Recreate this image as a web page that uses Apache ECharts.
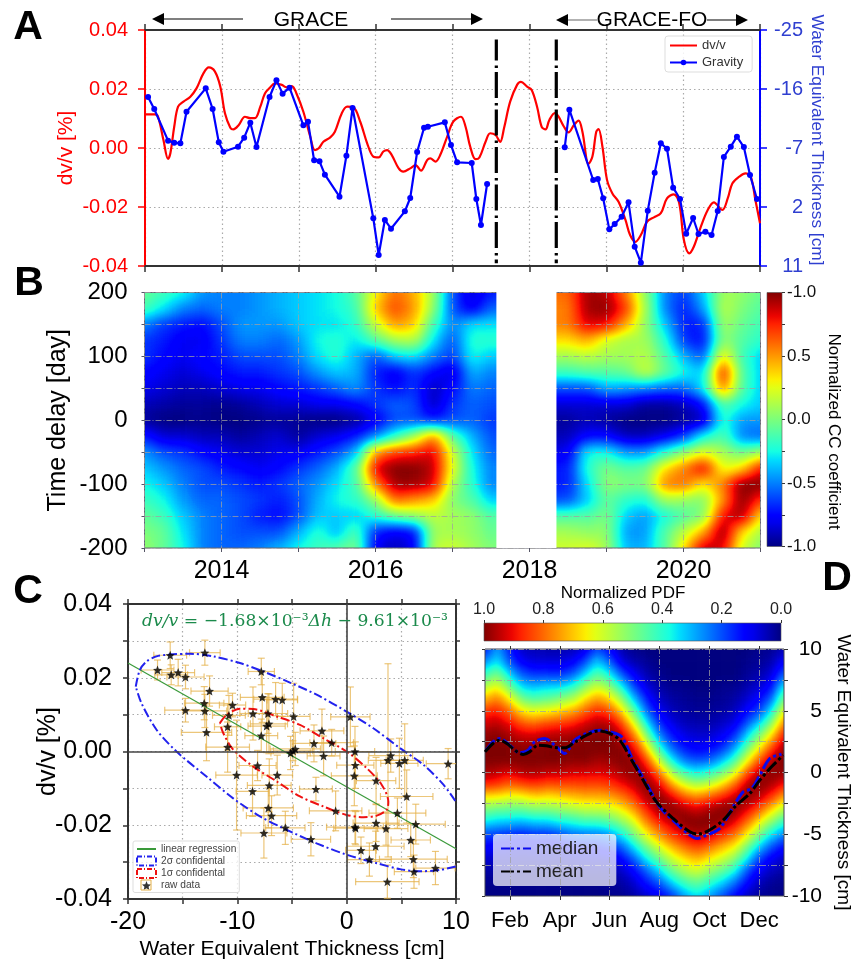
<!DOCTYPE html>
<html><head><meta charset="utf-8">
<style>html,body{margin:0;padding:0;background:#fff;width:858px;height:962px;overflow:hidden}
.clip{position:absolute;overflow:hidden}.inner{position:absolute}
#main{position:absolute;left:0;top:0;width:858px;height:962px;z-index:3}</style>
<script src="https://cdn.jsdelivr.net/npm/echarts@6/dist/echarts.min.js"></script>
</head><body>
<div id="filters"></div>
<div id="main"></div>
<script>
// ---------- Panel A ----------
const dvvYear=[2013.00,2013.13,2013.17,2013.24,2013.30,2013.33,2013.38,2013.43,2013.50,2013.59,2013.67,2013.76,2013.83,2013.91,2013.98,2014.04,2014.11,2014.15,2014.22,2014.30,2014.37,2014.43,2014.50,2014.56,2014.63,2014.69,2014.78,2014.84,2014.91,2014.97,2015.06,2015.15,2015.21,2015.26,2015.32,2015.41,2015.47,2015.56,2015.63,2015.71,2015.80,2015.89,2015.97,2016.04,2016.10,2016.15,2016.21,2016.30,2016.36,2016.45,2016.52,2016.59,2016.67,2016.71,2016.78,2016.84,2016.93,2017.01,2017.11,2017.17,2017.23,2017.30,2017.35,2017.43,2017.49,2017.56,2017.62,2017.67,2017.75,2017.84,2017.89,2017.97,2018.03,2018.10,2018.16,2018.21,2018.26,2018.33,2018.38,2018.45,2018.51,2018.58,2018.64,2018.69,2018.77,2018.82,2018.87,2018.90,2018.95,2019.01,2019.08,2019.16,2019.25,2019.31,2019.38,2019.45,2019.53,2019.62,2019.71,2019.79,2019.88,2019.95,2020.01,2020.08,2020.14,2020.23,2020.32,2020.40,2020.51,2020.58,2020.64,2020.73,2020.81,2020.88,2020.94,2021.00];
const dvvValue=[.0114,.0114,.0106,.0027,-.0037,-.0018,.0072,.0140,.0157,.0174,.0202,.0253,.0273,.0259,.0208,.0118,.0069,.0063,.0078,.0106,.0101,.0101,.0140,.0185,.0206,.0219,.0214,.0206,.0210,.0185,.0123,.0038,-.0007,-.0001,.0021,.0036,.0055,.0118,.0140,.0138,.0089,.0016,-.0029,-.0032,-.0012,-.0007,-.0024,-.0069,-.0080,-.0069,-.0058,-.0077,-.0041,-.0035,-.0046,-.0024,.0038,.0089,.0106,.0072,.0005,-.0038,-.0032,.0021,.0050,.0044,.0021,.0067,.0157,.0214,.0224,.0208,.0197,.0140,.0072,.0063,.0095,.0118,.0106,.0072,.0053,.0078,.0093,.0055,-.0054,-.0029,.0055,.0064,.0005,-.0108,-.0154,-.0182,-.0244,-.0295,-.0318,-.0295,-.0250,-.0235,-.0221,-.0171,-.0157,-.0188,-.0312,-.0357,-.0334,-.0267,-.0210,-.0184,-.0210,-.0171,-.0120,-.0097,-.0086,-.0097,-.0176,-.0255];
const gravityYear=[2013.04,2013.12,2013.30,2013.38,2013.46,2013.54,2013.79,2013.88,2013.96,2014.02,2014.21,2014.29,2014.37,2014.45,2014.62,2014.71,2014.79,2014.88,2015.06,2015.12,2015.20,2015.27,2015.34,2015.53,2015.62,2015.70,2015.97,2016.04,2016.12,2016.20,2016.38,2016.45,2016.54,2016.63,2016.68,2016.90,2016.98,2017.06,2017.25,2017.31,2017.37,2017.45,2018.00,2018.46,2018.52,2018.83,2018.89,2018.96,2019.04,2019.11,2019.20,2019.29,2019.37,2019.45,2019.54,2019.63,2019.71,2019.79,2019.87,2019.96,2020.04,2020.13,2020.20,2020.29,2020.37,2020.45,2020.53,2020.62,2020.70,2020.79,2020.87,2020.96];
const gravityThickness=[-14.78,-12.95,-8.12,-7.81,-7.71,-12.54,-16.10,-12.95,-7.86,-6.44,-7.20,-8.58,-10.86,-7.15,-14.78,-17.32,-15.29,-16.20,-10.46,-11.02,-5.12,-4.97,-2.93,0.43,-5.83,-13.10,3.73,9.32,3.98,5.31,2.66,0.63,-6.39,-10.10,-10.25,-10.91,-7.46,-4.81,-4.71,0.78,4.75,-1.51,null,-7.10,-12.85,-2.12,-2.27,0.68,5.41,4.59,3.48,1.29,8.05,10.49,2.56,-3.24,-7.71,-6.90,-0.95,0.78,6.07,3.68,6.12,5.76,6.27,2.61,-5.63,-7.20,-8.73,-7.15,-2.88,0.78];
const missionBreakYears=[2017.57,2018.35];
const breakLineValues=[0.0368,-0.0391];
const thicknessTicks=[-25,-16,-7,2,11];
// ---------- Panel B (rows: lag 200 ... -200 every 25 days; columns: 2013.00 ... 2021.00 every quarter year) ----------
const lagDays=[200,175,150,125,100,75,50,25,0,-25,-50,-75,-100,-125,-150,-175,-200];
const ccRow200=[-.05,-.15,-.25,-.45,-.5,-.5,-.45,-.4,-.35,-.3,-.25,-.1,.3,.6,.45,.1,-.6,-.85,-.7,null,null,null,.6,.95,.9,.55,.05,-.5,-.65,-.35,.1,.05,-.05];
const ccRow175=[-.12,-.3,-.5,-.55,-.5,-.5,-.45,-.4,-.35,-.3,-.25,-.15,.4,.68,.5,.05,-.6,-.8,-.55,null,null,null,.55,.95,.98,.7,.1,-.5,-.7,-.45,.15,0,-.1];
const ccRow150=[-.5,-.65,-.7,-.75,-.6,-.45,-.45,-.45,-.35,-.3,-.3,-.2,.2,.5,.4,-.15,-.5,-.3,-.3,null,null,null,.55,.85,.8,.45,.05,-.35,-.7,-.7,.1,-.05,-.15];
const ccRow125=[-.65,-.7,-.8,-.8,-.65,-.5,-.5,-.55,-.45,-.25,-.2,-.3,-.1,.1,.15,-.3,-.6,-.2,-.2,null,null,null,.35,.45,.2,.1,.1,-.2,-.65,-.75,.05,-.1,-.2];
const ccRow100=[-.65,-.75,-.8,-.75,-.7,-.6,-.6,-.6,-.5,-.3,-.2,-.4,-.6,-.35,-.3,-.5,-.65,-.25,-.35,null,null,null,.1,.15,.1,.1,.15,-.1,-.4,-.6,.35,-.15,-.35];
const ccRow75=[-.75,-.8,-.85,-.8,-.75,-.7,-.7,-.65,-.6,-.45,-.35,-.4,-.7,-.8,-.65,-.75,-.85,-.4,-.5,null,null,null,-.15,-.1,-.1,-.05,.2,-.05,-.25,-.35,.8,-.1,-.35];
const ccRow50=[-.8,-.85,-.9,-.9,-.85,-.8,-.8,-.75,-.7,-.65,-.55,-.45,-.65,-.75,-.65,-.9,-.75,-.5,-.55,null,null,null,-.6,-.6,-.4,-.45,-.5,-.55,-.55,-.3,.6,-.1,-.35];
const ccRow25=[-.9,-.93,-.95,-.95,-.98,-.95,-.9,-.85,-.85,-.8,-.8,-.75,-.65,-.55,-.6,-.9,-.65,-.55,-.6,null,null,null,-.85,-.85,-.85,-.85,-.95,-.95,-.9,-.75,-.1,-.25,-.35];
const ccRow0=[-.95,-1,-1,-.98,-1,-1,-.98,-.95,-.97,-1,-1,-.95,-.8,-.6,-.6,-.7,-.6,-.55,-.65,null,null,null,-.95,-.9,-.95,-1,-1,-1,-.95,-.9,-.2,-.45,-.45];
const ccRowM25=[-.7,-.85,-.85,-.9,-.9,-.95,-.9,-.85,-.95,-.85,-.8,-.7,-.5,-.2,.1,.55,-.1,-.4,-.6,null,null,null,-.9,-.75,-.75,-.9,-.9,-.8,-.65,-.25,-.1,-.5,-.55];
const ccRowM50=[-.45,-.6,-.65,-.75,-.8,-.85,-.85,-.8,-.8,-.7,-.6,-.4,.5,.7,.75,.85,.2,-.3,-.55,null,null,null,-.8,-.25,-.25,-.45,-.45,-.2,.05,.25,.1,-.05,.1];
const ccRowM75=[-.35,-.45,-.55,-.6,-.7,-.75,-.8,-.75,-.65,-.55,-.4,-.1,.85,1,1,.9,.25,-.25,-.5,null,null,null,-.7,-.2,0,-.1,-.05,.35,.55,.85,.25,.35,.8];
const ccRowM100=[-.25,-.35,-.5,-.6,-.6,-.65,-.7,-.65,-.55,-.45,-.3,-.15,.55,.95,.95,.85,.1,-.2,-.5,null,null,null,-.7,-.3,.05,0,0,.55,.6,.3,.55,1,1];
const ccRowM125=[-.15,-.25,-.45,-.55,-.55,-.6,-.65,-.7,-.6,-.4,-.25,-.2,.05,.6,.5,.4,0,-.1,-.35,null,null,null,-.6,-.35,-.05,-.2,-.25,.1,.05,0,.5,1,.7];
const ccRowM150=[-.05,-.15,-.35,-.5,-.55,-.6,-.7,-.75,-.6,-.35,-.35,-.35,-.2,-.05,.05,.15,.1,.05,-.1,null,null,null,-.1,-.1,0,-.35,-.45,-.25,-.1,0,.8,.95,.3];
const ccRowM175=[0,-.05,-.3,-.5,-.55,-.6,-.6,-.6,-.4,-.2,-.4,-.1,-.7,-.8,-.75,.1,.1,.05,-.05,null,null,null,.1,.05,.05,-.45,-.45,-.1,.15,.45,1,.35,.1];
const ccRowM200=[.05,-.05,-.25,-.5,-.55,-.55,-.5,-.4,-.25,-.15,-.1,0,-.8,-.9,-.8,.15,.2,.1,0,null,null,null,.2,.25,.1,-.4,-.4,-.1,.35,.9,.85,.2,0];
const ccRows=[ccRow200,ccRow175,ccRow150,ccRow125,ccRow100,ccRow75,ccRow50,ccRow25,ccRow0,ccRowM25,ccRowM50,ccRowM75,ccRowM100,ccRowM125,ccRowM150,ccRowM175,ccRowM200];
const ccGapYears=[2017.57,2018.35];
// ---------- Panel C ----------
const rawThickness=[-17.30,-16.14,-16.05,-15.41,-14.74,-12.97,-12.54,-13.03,-12.97,-14.74,-12.82,-10.89,-10.77,-10.44,-10.89,-8.57,-7.81,-7.72,-6.50,-5.89,-7.20,-7.11,-7.32,-7.81,-4.85,-2.26,-2.99,-1.37,-2.11,-4.70,-4.91,-5.13,.34,.76,4.03,3.78,4.82,5.31,9.28,5.49,2.69,.79,.70,-1.01,-2.81,-6.35,-8.15,-10.07,-8.61,-7.08,-7.17,-6.87,-7.57,-5.61,-3.27,.76,.82,2.69,3.60,4.64,6.32,5.86,2.65,1.31,2.08,6.10,6.16,8.12,3.72];
const rawDvv=[.0221,.0261,.0208,.0214,.0202,.0268,.0164,.0131,.0110,.0112,.0052,.0067,.0098,.0126,.0012,.0103,.0217,.0147,.0142,.0140,.0103,.0075,.0069,.0043,.0095,.0056,.0022,.0024,-.0012,.0007,.0002,-.0004,.0094,0,-.0011,-.0024,-.0032,-.0024,-.0033,-.0122,-.0079,-.0037,-.0066,-.0161,-.0102,-.0064,-.0038,-.0064,-.0108,-.0092,-.0153,-.0174,-.0221,-.0207,-.0238,-.0205,-.0208,-.0194,-.0209,-.0167,-.0197,-.0240,-.0257,-.0268,-.0293,-.0292,-.0326,-.0316,-.0353];
const rawThicknessErr=[1.5,1.5,1.5,1.5,1.7,1.4,1.7,1.8,2.0,1.9,2.3,1.2,1.5,1.2,2.0,1.2,1.2,2.0,2.0,1.4,1.8,1.7,1.7,1.5,1.5,2.0,2.0,2.0,1.5,2.3,1.8,1.8,1.8,1.8,2.0,1.8,1.7,1.7,2.0,2.4,1.8,1.7,2.1,2.4,1.5,1.4,1.7,1.9,1.5,2.0,2.3,2.3,2.1,1.8,1.8,2.6,2.0,2.1,2.0,2.6,2.7,1.8,2.6,1.4,2.0,3.1,1.8,1.8,2.9];
const rawDvvErr=[.0027,.0036,.0027,.0036,.0032,.0034,.0041,.0045,.0045,.0032,.0077,.0063,.0054,.0032,.0068,.0072,.0036,.0068,.0045,.0045,.0054,.0081,.0072,.0045,.0090,.0059,.0050,.0036,.0054,.0045,.0027,.0045,.0081,.0068,.0045,.0262,.0068,.0099,.0041,.0072,.0063,.0063,.0081,.0054,.0032,.0054,.0041,.0149,.0068,.0072,.0054,.0054,.0068,.0045,.0045,.0045,.0045,.0050,.0045,.0041,.0054,.0045,.0041,.0036,.0045,.0050,.0045,.0045,.0045];
const regressionThickness=[-20,10];
const regressionDvv=[.0240,-.0264];
const sigma2Thickness=[-19.29,-18.92,-18.31,-17.39,-16.17,-14.34,-12.21,-9.77,-7.63,-5.19,-2.75,0,2.44,4.88,7.02,8.85,9.98,9.99,9.98,8.54,6.71,4.88,2.75,0,-2.75,-5.80,-7.93,-10.38,-12.82,-15.56,-17.39,-18.77,-19.29];
const sigma2Dvv=[.0176,.0221,.0244,.0258,.0263,.0265,.0258,.0240,.0217,.0187,.0154,.0108,.0063,.0009,-.0036,-.0090,-.0136,null,-.0312,-.0321,-.0325,-.0319,-.0303,-.0280,-.0249,-.0208,-.0176,-.0127,-.0068,0,.0059,.0131,.0176];
const sigma1Thickness=[-11.60,-10.99,-9.77,-8.54,-6.41,-4.27,-2.14,0,1.83,3.20,3.81,3.66,2.75,1.53,0,-2.14,-4.27,-6.41,-8.54,-10.38,-11.29,-11.60];
const sigma1Dvv=[.0077,.0099,.0116,.0115,.0095,.0072,.0036,0,-.0045,-.0090,-.0136,-.0158,-.0174,-.0178,-.0172,-.0149,-.0122,-.0081,-.0041,.0005,.0050,.0077];
// ---------- Panel D (columns: months 1 ... 13 every half month; rows: thickness 10 ... -10 every 1 cm) ----------
const pdfM1_0=[.12,.25,.40,.55,.70,.85,.93,.98,1,1,.97,.87,.65,.5,.36,.2,.12,.08,.03,.01,0];
const pdfM1_5=[.3,.36,.50,.64,.78,.88,.95,1,1,1,.95,.85,.65,.48,.33,.18,.1,.06,.03,.01,0];
const pdfM2_0=[.15,.2,.33,.48,.65,.8,.9,.97,1,1,.92,.8,.62,.47,.32,.17,.1,.06,.03,.01,0];
const pdfM2_5=[.06,.1,.2,.33,.48,.66,.82,.93,.99,1,.96,.83,.63,.47,.3,.15,.08,.05,.02,.01,0];
const pdfM3_0=[.05,.08,.17,.3,.44,.62,.8,.93,.99,1,.97,.85,.68,.5,.33,.18,.1,.05,.02,.01,0];
const pdfM3_5=[.04,.08,.17,.33,.46,.64,.83,.95,1,1,.95,.82,.66,.5,.33,.17,.09,.05,.02,.01,0];
const pdfM4_0=[.04,.08,.16,.33,.5,.68,.85,.96,1,1,.95,.83,.68,.53,.37,.2,.1,.05,.02,.01,0];
const pdfM4_5=[.05,.1,.2,.38,.55,.72,.87,.97,1,.99,.93,.83,.7,.55,.39,.24,.12,.06,.03,.01,0];
const pdfM5_0=[.08,.18,.32,.5,.66,.8,.92,.99,1,1,.93,.84,.72,.58,.42,.25,.13,.07,.03,.01,0];
const pdfM5_5=[.2,.33,.46,.6,.75,.87,.96,1,1,.97,.92,.83,.72,.58,.42,.25,.14,.07,.03,.01,0];
const pdfM6_0=[.12,.22,.36,.52,.68,.83,.95,1,1,.98,.93,.85,.73,.6,.45,.28,.16,.08,.04,.02,.01];
const pdfM6_5=[.04,.08,.2,.36,.52,.68,.84,.94,.99,1,.97,.89,.78,.65,.52,.37,.22,.12,.06,.03,.01];
const pdfM7_0=[.01,.04,.1,.18,.3,.46,.62,.78,.9,.98,1,.95,.86,.75,.62,.5,.36,.22,.12,.07,.03];
const pdfM7_5=[0,.02,.04,.08,.14,.22,.35,.5,.68,.84,.95,1,.97,.88,.78,.65,.5,.37,.22,.14,.07];
const pdfM8_0=[0,0,.01,.03,.06,.1,.16,.25,.4,.58,.78,.92,1,.98,.88,.76,.62,.48,.33,.2,.1];
const pdfM8_5=[0,0,0,.01,.03,.05,.09,.14,.22,.36,.55,.75,.92,1,.95,.86,.72,.6,.47,.32,.17];
const pdfM9_0=[0,0,0,.01,.02,.03,.05,.09,.14,.24,.42,.62,.82,.97,1,.92,.8,.67,.55,.42,.28];
const pdfM9_5=[0,0,0,0,.01,.02,.04,.07,.11,.2,.36,.56,.77,.93,1,.97,.85,.72,.6,.47,.35];
const pdfM10_0=[0,0,0,0,.01,.02,.04,.07,.12,.22,.4,.6,.82,.97,1,.94,.8,.66,.53,.4,.28];
const pdfM10_5=[0,0,0,.01,.02,.03,.06,.1,.16,.3,.48,.68,.88,1,.98,.87,.72,.6,.47,.33,.2];
const pdfM11_0=[0,0,0,.01,.03,.05,.09,.16,.27,.42,.6,.8,.95,1,.92,.8,.66,.52,.38,.23,.12];
const pdfM11_5=[0,.01,.02,.04,.07,.12,.2,.33,.47,.63,.82,.96,1,.92,.8,.66,.5,.36,.2,.12,.06];
const pdfM12_0=[.01,.02,.04,.07,.12,.18,.33,.5,.65,.82,.96,1,.95,.82,.65,.5,.33,.18,.1,.05,.02];
const pdfM12_5=[.02,.04,.08,.13,.22,.36,.52,.68,.84,.97,1,.96,.85,.68,.52,.35,.2,.1,.05,.02,.01];
const pdfM13_0=[.05,.12,.22,.37,.5,.65,.78,.9,.98,1,.98,.88,.72,.56,.4,.25,.13,.06,.03,.01,0];
const pdfColumns=[pdfM1_0,pdfM1_5,pdfM2_0,pdfM2_5,pdfM3_0,pdfM3_5,pdfM4_0,pdfM4_5,pdfM5_0,pdfM5_5,pdfM6_0,pdfM6_5,pdfM7_0,pdfM7_5,pdfM8_0,pdfM8_5,pdfM9_0,pdfM9_5,pdfM10_0,pdfM10_5,pdfM11_0,pdfM11_5,pdfM12_0,pdfM12_5,pdfM13_0];
const meanMonth=[1.00,1.32,1.59,1.92,2.19,2.53,2.79,3.13,3.46,3.80,4.20,4.53,5.00,5.54,6.01,6.41,6.81,7.35,7.88,8.55,9.22,9.55,9.96,10.56,11.09,11.63,12.03,12.50,12.97];
const meanThickness=[1.67,2.35,2.62,2.29,1.81,1.46,1.67,2.21,2.16,2.02,2.00,2.35,2.94,3.37,3.16,2.62,1.27,-.62,-2.38,-3.72,-4.80,-4.99,-4.72,-3.86,-2.65,-1.70,-.62,.46,1.40];
const medianMonth=[1.05,1.32,1.59,1.99,2.39,2.73,2.99,3.40,3.80,4.20,4.60,5.07,5.61,6.01,6.48,6.94,7.48,8.01,8.68,9.22,9.51,9.89,10.42,10.96,11.36,11.70,12.03,12.43,12.90];
const medianThickness=[1.81,2.48,2.75,2.21,1.59,1.81,2.48,2.75,2.21,1.54,2.62,3.16,3.43,3.29,2.89,1.00,-.89,-2.78,-4.13,-5.07,-5.34,-5.07,-4.53,-2.78,-1.57,-1.30,-.22,1.13,1.48];
const monthTicks=[2,4,6,8,10,12];
const monthLabels=['Feb','Apr','Jun','Aug','Oct','Dec'];

// ---------- colour map ----------
function lin(t,pts){for(let i=1;i<pts.length;i++){if(t<=pts[i][0]){const a=pts[i-1],b=pts[i];return a[1]+(b[1]-a[1])*(t-a[0])/(b[0]-a[0]);}}return pts[pts.length-1][1];}
const jetR=t=>lin(t,[[0,0],[.35,0],[.66,1],[.89,1],[1,.5]]);
const jetG=t=>lin(t,[[0,0],[.125,0],[.375,1],[.64,1],[.91,0],[1,0]]);
const jetB=t=>lin(t,[[0,.5],[.11,1],[.34,1],[.65,0],[1,0]]);
const tbl=f=>Array.from({length:129},(_,i)=>f(i/128).toFixed(4)).join(' ');
const oneFilter=(id,sd)=>'<filter id="'+id+'" x="0" y="0" width="100%" height="100%" color-interpolation-filters="sRGB"><feGaussianBlur stdDeviation="'+sd+'"/><feComponentTransfer><feFuncR type="table" tableValues="'+tbl(jetR)+'"/><feFuncG type="table" tableValues="'+tbl(jetG)+'"/><feFuncB type="table" tableValues="'+tbl(jetB)+'"/></feComponentTransfer></filter>';
document.getElementById('filters').innerHTML='<svg width="0" height="0" style="position:absolute">'+oneFilter('jetB','8 6.5')+oneFilter('jetD','6 5.5')+'</svg>';
const jetStops=(rev)=>Array.from({length:33},(_,i)=>{const t=i/32,u=rev?1-t:t;return {offset:t,color:`rgb(${Math.round(jetR(u)*255)},${Math.round(jetG(u)*255)},${Math.round(jetB(u)*255)})`};});

// ---------- blurred heat layers: grey value maps through ECharts, coloured by the jet filter ----------
function heatLayer(rect,rows,vmin,vmax,filterId){
  const nR=rows.length,nC=rows[0].length,pad=3;
  const cx=rect.w/(nC-1),cy=rect.h/(nR-1);
  const clip=document.createElement('div');clip.className='clip';
  Object.assign(clip.style,{left:rect.x+'px',top:rect.y+'px',width:rect.w+'px',height:rect.h+'px',zIndex:1});
  const inner=document.createElement('div');inner.className='inner';
  const W=(nC+2*pad)*cx,H=(nR+2*pad)*cy;
  Object.assign(inner.style,{left:-(pad+.5)*cx+'px',top:-(pad+.5)*cy+'px',width:W+'px',height:H+'px',filter:'url(#'+filterId+')'});
  clip.appendChild(inner);document.body.appendChild(clip);
  const lookup=(r,c)=>{r=Math.max(0,Math.min(nR-1,r));c=Math.max(0,Math.min(nC-1,c));
    let v=rows[r][c];for(let d=1;v===null&&d<nC;d++){const a=rows[r][c-d],b=rows[r][c+d];v=(a!==undefined&&a!==null)?a:((b!==undefined&&b!==null)?b:null);}return v;};
  const data=[];
  for(let r=-pad;r<nR+pad;r++)for(let c=-pad;c<nC+pad;c++)data.push([c+pad,r+pad,lookup(r,c)]);
  const idx=n=>Array.from({length:n},(_,i)=>i);
  echarts.init(inner,null,{width:W,height:H}).setOption({animation:false,
    grid:{left:0,right:0,top:0,bottom:0},
    xAxis:{type:'category',data:idx(nC+2*pad),show:false},
    yAxis:{type:'category',data:idx(nR+2*pad),show:false,inverse:true},
    visualMap:{show:false,min:vmin,max:vmax,dimension:2,inRange:{color:['#000000','#ffffff']}},
    series:[{type:'heatmap',data,progressive:0,emphasis:{disabled:true}}]});
}
heatLayer({x:144.5,y:292.5,w:616,h:255.5},ccRows,-1,1,'jetB');
const pdfRows=pdfColumns[0].map((_,r)=>pdfColumns.map(col=>col[r]));
heatLayer({x:485,y:649,w:299,h:247},pdfRows,0,1,'jetD');

// ---------- overlay ----------
const FONT='"Liberation Sans",Arial,sans-serif';
const RED='#ff0000',BLUE='#0000ff',BLUET='#2f3fd0',DARK='#333';
const zip=(a,b)=>a.map((v,i)=>[v,b[i]]);
const fix=(v,n)=>{if(Math.abs(v)<1e-9)v=0;return v.toFixed(n);};
const lbl=(size,color,extra)=>Object.assign({show:true,fontFamily:FONT,fontSize:size,color:color||'#000'},extra||{});
const dotted={show:true,lineStyle:{color:'#aaaaaa',type:[1.5,3],width:1.2}};
const dashB={show:true,lineStyle:{color:'rgba(160,160,160,.75)',type:[6,2,1,2],width:1}};

const grid=[
 {left:145,top:30,width:615,height:236,outerBoundsMode:'none'},
 {left:144.5,top:292.5,width:616,height:255.5,show:true,borderColor:'#667',borderWidth:1,backgroundColor:'transparent',outerBoundsMode:'none'},
 {left:128,top:604,width:328,height:295,outerBoundsMode:'none'},
 {left:485,top:649,width:299,height:247,show:true,borderColor:'#445',borderWidth:1,backgroundColor:'transparent',outerBoundsMode:'none'},
 {left:767,top:292.5,width:15,height:254,outerBoundsMode:'none'},
 {left:484,top:623,width:297,height:18,outerBoundsMode:'none'}
];
const darkLine=(w)=>({show:true,onZero:false,lineStyle:{color:DARK,width:w||2}});
const xAxis=[
 {gridIndex:0,type:'value',min:2013,max:2021,interval:1,position:'bottom',axisLine:darkLine(2),axisLabel:{show:false},axisTick:{show:true,length:6,lineStyle:{color:DARK,width:1.5}},splitLine:dotted},
 {gridIndex:0,type:'value',min:2013,max:2021,interval:1,position:'top',axisLine:darkLine(2),axisLabel:{show:false},axisTick:{show:true,length:6,lineStyle:{color:DARK,width:1.5}},splitLine:{show:false}},
 {gridIndex:1,type:'value',min:2013,max:2021,interval:1,position:'bottom',axisLine:{show:false,onZero:false},
   axisLabel:lbl(25,'#000',{margin:11,formatter:v=>v%2===0?String(v):''}),axisTick:{show:true,length:4,lineStyle:{color:'#556'}},splitLine:dashB},
 {gridIndex:2,type:'value',min:-20,max:10,interval:5,position:'bottom',axisLine:darkLine(2),
   axisLabel:lbl(25,'#000',{margin:11,formatter:v=>v%10===0?String(v):''}),axisTick:{show:true,length:5,lineStyle:{color:DARK,width:1.5}},splitLine:dotted,
   name:'Water Equivalent Thickness [cm]',nameLocation:'middle',nameGap:40,nameMoveOverlap:false,nameTextStyle:{fontFamily:FONT,fontSize:21,color:'#000'}},
 {gridIndex:2,type:'value',min:-20,max:10,interval:5,position:'top',axisLine:darkLine(2),axisLabel:{show:false},axisTick:{show:true,length:5,lineStyle:{color:DARK,width:1.5}},splitLine:{show:false}},
 {gridIndex:3,type:'value',min:1,max:13,position:'bottom',axisLine:{show:false,onZero:false},
   axisLabel:lbl(22,'#000',{margin:14,customValues:monthTicks,formatter:v=>monthLabels[monthTicks.indexOf(v)]||''}),axisTick:{show:true,length:4,customValues:monthTicks,lineStyle:{color:DARK}},splitLine:{show:false}},
 {gridIndex:3,type:'value',min:1,max:13,position:'top',axisLine:{show:false,onZero:false},axisLabel:{show:false},axisTick:{show:true,length:3,customValues:monthTicks,lineStyle:{color:DARK}},splitLine:{show:false}},
 {gridIndex:4,type:'value',min:0,max:1,show:false},
 {gridIndex:5,type:'value',min:0,max:1,inverse:true,interval:.2,position:'top',axisLine:{show:false,onZero:false},axisLabel:lbl(16,'#222',{margin:5,formatter:v=>fix(v,1)}),axisTick:{show:true,length:3,lineStyle:{color:DARK}},splitLine:{show:false}}
];
const yAxis=[
 {gridIndex:0,type:'value',min:-.04,max:.04,interval:.02,position:'left',axisLine:{show:true,onZero:false,lineStyle:{color:RED,width:2}},axisTick:{show:true,length:7,lineStyle:{color:RED,width:1.5}},
   axisLabel:lbl(20,RED,{margin:17,formatter:v=>fix(v,2)}),splitLine:dotted,
   name:'dv/v [%]',nameLocation:'middle',nameGap:68,nameMoveOverlap:false,nameTextStyle:{fontFamily:FONT,fontSize:21,color:RED}},
 {gridIndex:0,type:'value',min:-25,max:11,inverse:true,position:'right',axisLine:{show:true,onZero:false,lineStyle:{color:BLUE,width:2}},
   axisTick:{show:true,length:7,customValues:thicknessTicks,lineStyle:{color:BLUE,width:1.5}},
   axisLabel:lbl(20,BLUET,{margin:43,customValues:thicknessTicks,align:'right'}),splitLine:{show:false},
   name:'Water Equivalent Thickness [cm]',nameLocation:'middle',nameGap:48,nameMoveOverlap:false,nameRotate:-90,nameTextStyle:{fontFamily:FONT,fontSize:17.3,color:BLUET,padding:[0,16,0,0]}},
 {gridIndex:1,type:'value',min:-200,max:200,interval:50,position:'left',axisLine:{show:false,onZero:false},axisTick:{show:true,length:3,lineStyle:{color:'#556'}},
   axisLabel:lbl(24,'#000',{margin:17,formatter:v=>v%100===0?String(v):''}),splitLine:dashB,
   name:'Time delay [day]',nameLocation:'middle',nameGap:74,nameMoveOverlap:false,nameTextStyle:{fontFamily:FONT,fontSize:25,color:'#000'}},
 {gridIndex:2,type:'value',min:-.04,max:.04,interval:.01,position:'left',axisLine:darkLine(2),axisTick:{show:true,length:5,lineStyle:{color:DARK,width:1.5}},
   axisLabel:lbl(25,'#000',{margin:16,formatter:v=>Math.round(v*100)%2===0?fix(v,2):''}),splitLine:dotted,
   name:'dv/v [%]',nameLocation:'middle',nameGap:67,nameMoveOverlap:false,nameTextStyle:{fontFamily:FONT,fontSize:25,color:'#000'}},
 {gridIndex:2,type:'value',min:-.04,max:.04,interval:.01,position:'right',axisLine:darkLine(2),axisLabel:{show:false},axisTick:{show:true,length:4,lineStyle:{color:DARK,width:1.5}},splitLine:{show:false}},
 {gridIndex:3,type:'value',min:-10,max:10,interval:2.5,position:'right',axisLine:{show:false,onZero:false},axisTick:{show:true,length:4,lineStyle:{color:DARK}},
   axisLabel:lbl(21,'#000',{margin:38,align:'right',formatter:v=>v%5===0?String(v):''}),splitLine:dashB,
   name:'Water Equivalent Thickness [cm]',nameLocation:'middle',nameGap:50,nameMoveOverlap:false,nameRotate:-90,nameTextStyle:{fontFamily:FONT,fontSize:19,color:'#000'}},
 {gridIndex:3,type:'value',min:-10,max:10,interval:2.5,position:'left',axisLine:{show:false,onZero:false},axisLabel:{show:false},axisTick:{show:true,length:3,lineStyle:{color:DARK}},splitLine:{show:false}},
 {gridIndex:4,type:'value',min:-1,max:1,interval:.25,position:'right',axisLine:{show:false,onZero:false},axisTick:{show:true,length:3,lineStyle:{color:'#333'}},
   axisLabel:lbl(17,'#111',{margin:5,formatter:v=>v===1?'-1.0':(v*100%50===0?fix(v,1):'')}),splitLine:{show:false},
   name:'Normalized CC coefficient',nameLocation:'middle',nameGap:43,nameMoveOverlap:false,nameRotate:-90,nameTextStyle:{fontFamily:FONT,fontSize:17,color:'#000',padding:[0,0,0,24]}},
 {gridIndex:5,type:'value',min:0,max:1,show:false}
];
const barRect=(rev,horizontal)=>(p,api)=>{
  const a=api.coord([api.value(0),api.value(1)]),b=api.coord([api.value(2),api.value(3)]);
  const x=Math.min(a[0],b[0]),y=Math.min(a[1],b[1]);
  return {type:'rect',shape:{x,y,width:Math.abs(b[0]-a[0]),height:Math.abs(b[1]-a[1])},style:{
    fill:new echarts.graphic.LinearGradient(0,0,horizontal?1:0,horizontal?0:1,jetStops(rev)),stroke:'#555',lineWidth:.6}};
};
const starPath='path://M12 1L15 9L23 9.5L17 15L19 23L12 18.5L5 23L7 15L1 9.5L9 9Z';
const errStyle={stroke:'rgba(228,176,70,.72)',lineWidth:1.2,fill:'none'};
const series=[
 {name:'dv/v',type:'line',xAxisIndex:0,yAxisIndex:0,data:zip(dvvYear,dvvValue),smooth:.35,symbol:'none',lineStyle:{color:RED,width:2.2},itemStyle:{color:RED},z:3},
 {name:'Gravity',type:'line',xAxisIndex:0,yAxisIndex:1,data:zip(gravityYear,gravityThickness),symbol:'circle',symbolSize:6,lineStyle:{color:BLUE,width:2.2},itemStyle:{color:BLUE},z:4},
 ...missionBreakYears.map(yr=>({type:'line',name:'break',xAxisIndex:0,yAxisIndex:0,data:breakLineValues.map(v=>[yr,v]),symbol:'none',lineStyle:{color:'#000',width:3.2,type:[26,5,2.5,4],dashOffset:5},z:5})),
 {type:'custom',name:'gap',xAxisIndex:2,yAxisIndex:2,data:[[ccGapYears[0],200,ccGapYears[1],-200]],z:3,renderItem:(p,api)=>{
   const a=api.coord([api.value(0),api.value(1)]),b=api.coord([api.value(2),api.value(3)]);
   return {type:'rect',shape:{x:a[0],y:a[1]-1,width:b[0]-a[0],height:b[1]-a[1]+1},style:{fill:'#fff'}};}},
 {type:'custom',name:'ccbar',xAxisIndex:7,yAxisIndex:7,data:[[0,1,1,-1]],renderItem:barRect(true,false)},
 {type:'custom',name:'pdfbar',xAxisIndex:8,yAxisIndex:8,data:[[1,1,0,0]],renderItem:barRect(true,true)},
 {type:'custom',name:'errors',xAxisIndex:3,yAxisIndex:3,clip:true,z:2,data:rawThickness.map((x,i)=>[x,rawDvv[i],rawThicknessErr[i],rawDvvErr[i]]),renderItem:(p,api)=>{
   const x=api.value(0),y=api.value(1),ex=api.value(2),ey=api.value(3);
   const l=api.coord([x-ex,y]),r=api.coord([x+ex,y]),t=api.coord([x,y+ey]),b=api.coord([x,y-ey]),c=3.5;
   const ln=(x1,y1,x2,y2)=>({type:'line',shape:{x1,y1,x2,y2},style:errStyle});
   return {type:'group',children:[ln(l[0],l[1],r[0],r[1]),ln(t[0],t[1],b[0],b[1]),ln(l[0],l[1]-c,l[0],l[1]+c),ln(r[0],r[1]-c,r[0],r[1]+c),ln(t[0]-c,t[1],t[0]+c,t[1]),ln(b[0]-c,b[1],b[0]+c,b[1])]};}},
 {name:'linear regression',type:'line',xAxisIndex:3,yAxisIndex:3,data:zip(regressionThickness,regressionDvv),symbol:'none',lineStyle:{color:'#3a9a3a',width:1.2},itemStyle:{color:'#3a9a3a'},z:4,
   markLine:{silent:true,symbol:'none',label:{show:false},animation:false,lineStyle:{color:'#444',width:1.6,type:'solid'},data:[{xAxis:0},{yAxis:0}]}},
 {name:'2σ confidental',type:'line',xAxisIndex:3,yAxisIndex:3,data:zip(sigma2Thickness,sigma2Dvv),smooth:.3,symbol:'none',lineStyle:{color:'#2222ee',width:2,type:[9,3,2,3]},itemStyle:{color:'#2222ee'},z:4},
 {name:'1σ confidental',type:'line',xAxisIndex:3,yAxisIndex:3,data:zip(sigma1Thickness,sigma1Dvv),smooth:.3,symbol:'none',lineStyle:{color:'#ee1111',width:2,type:[9,3,2,3]},itemStyle:{color:'#ee1111'},z:4},
 {name:'raw data',type:'scatter',xAxisIndex:3,yAxisIndex:3,data:zip(rawThickness,rawDvv),symbol:starPath,symbolSize:9,itemStyle:{color:'#000'},z:5},
 {name:'mean',type:'line',xAxisIndex:5,yAxisIndex:5,data:zip(meanMonth,meanThickness),smooth:.3,symbol:'none',lineStyle:{color:'#000',width:3,type:[13,3,3,3]},itemStyle:{color:'#000'},z:5,
   markLine:{silent:true,symbol:'none',label:{show:false},animation:false,lineStyle:{color:'rgba(160,160,160,.75)',width:1,type:[6,2,1,2]},data:monthTicks.map(v=>({xAxis:v}))}},
 {name:'median',type:'line',xAxisIndex:5,yAxisIndex:5,data:zip(medianMonth,medianThickness),smooth:.3,symbol:'none',lineStyle:{color:'#0a0aee',width:3,type:[13,3,3,3]},itemStyle:{color:'#0a0aee'},z:4}
];
const noMark={opacity:0};
const legend=[
 {data:[{name:'dv/v',itemStyle:noMark},{name:'Gravity'}],orient:'vertical',left:665,top:36,padding:[3,9,3,4],itemGap:4,itemWidth:27,itemHeight:7,backgroundColor:'rgba(255,255,255,.85)',borderColor:'#ddd',borderWidth:1,borderRadius:3,
  textStyle:{fontFamily:FONT,fontSize:13,color:'#333'}},
 {data:[{name:'linear regression',itemStyle:noMark},
        {name:'2σ confidental',icon:'rect',itemStyle:{color:'transparent',borderColor:'#2222ee',borderWidth:2,borderType:[5,2,1,2]}},
        {name:'1σ confidental',icon:'rect',itemStyle:{color:'transparent',borderColor:'#ee1111',borderWidth:2,borderType:[5,2,1,2]}},
        {name:'raw data',icon:starPath}],
  orient:'vertical',left:133,top:841,padding:[3,3,2,3],itemGap:1.5,itemWidth:19,itemHeight:9,backgroundColor:'rgba(255,255,255,.8)',borderColor:'#ddd',borderWidth:1,borderRadius:2,
  textStyle:{fontFamily:FONT,fontSize:10.2,color:'#444'}},
 {data:[{name:'median',itemStyle:noMark},{name:'mean',itemStyle:noMark}],orient:'vertical',left:493,top:834,padding:[5,18,5,7],itemGap:4,itemWidth:30,itemHeight:20,backgroundColor:'rgba(255,255,255,.72)',borderRadius:4,
  textStyle:{fontFamily:FONT,fontSize:19,color:'#222'}}
];
const txt=(text,x,y,size,extra)=>({type:'text',x,y,z:20,style:Object.assign({text,fontFamily:FONT,fontSize:size,fill:'#000',textAlign:'center',textVerticalAlign:'middle'},extra||{})});
const aline=(x1,x2,y,color)=>({type:'line',z:20,shape:{x1,y1:y,x2,y2:y},style:{stroke:color||'#000',lineWidth:1.2}});
const ahead=(tip,y,dir)=>({type:'polygon',z:20,shape:{points:[[tip,y],[tip-dir*12,y-6],[tip-dir*12,y+6]]},style:{fill:'#000'}});
const graphic=[
 txt('A',28,28,41,{fontWeight:'bold'}),txt('B',29,284,41,{fontWeight:'bold'}),txt('C',28,592,41,{fontWeight:'bold'}),txt('D',837,579,41,{fontWeight:'bold'}),
 txt('GRACE',311,20,21),txt('GRACE-FO',652,20,21),
 aline(160,243,19),ahead(152,19,-1),aline(391,476,19),ahead(483,19,1),
 aline(564,597,20,'#666'),ahead(556,20,-1),aline(707,741,20),ahead(748,20,1),
 txt('Normalized PDF',623,593,17),
 {type:'text',x:295,y:622,z:20,style:{text:'{i|dv/v} = −1.68×10⁻³{i|Δh} − 9.61×10⁻³',fontFamily:'"DejaVu Serif"',fontSize:17.2,fill:'#1b8a4b',textAlign:'center',textVerticalAlign:'middle',
   rich:{i:{fontFamily:'"DejaVu Serif"',fontStyle:'italic',fontSize:17.2,fill:'#1b8a4b'}}}},
 {type:'rect',z:20,shape:{x:141,y:880,width:10,height:10},style:{fill:'none',stroke:'#e4b046',lineWidth:1}}
];
const chart=echarts.init(document.getElementById('main'),null,{width:858,height:962,renderer:'canvas'});
chart.setOption({animation:false,backgroundColor:'transparent',grid,xAxis,yAxis,series,legend,graphic,tooltip:{show:false}});
</script>
</body></html>
